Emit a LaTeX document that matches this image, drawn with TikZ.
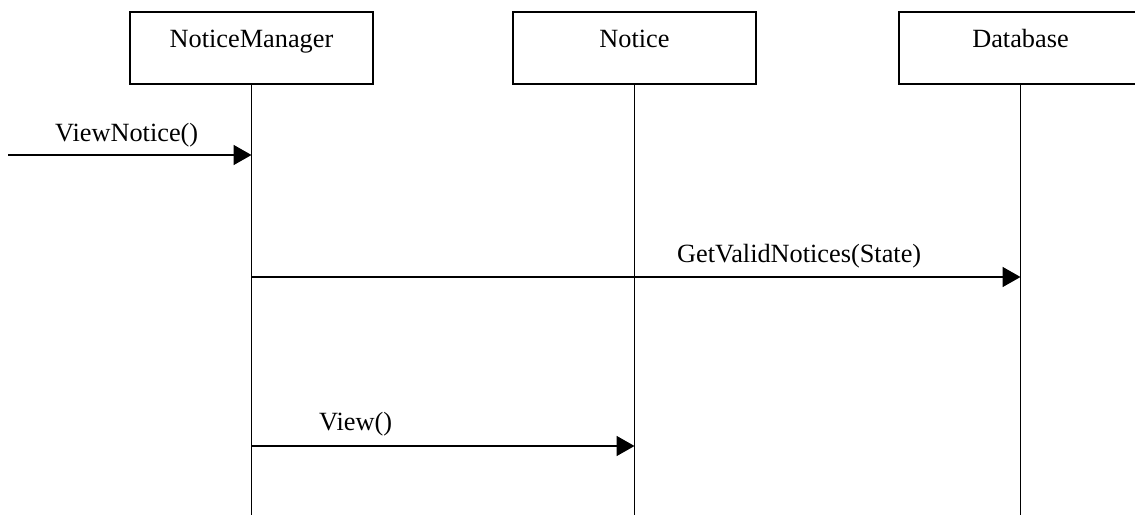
\documentclass[tikz,border=0pt]{standalone}
\usepackage{fontspec}
\setmainfont{Liberation Serif}
\usetikzlibrary{arrows.meta}
\begin{document}
\begin{tikzpicture}[x=1pt,y=-1pt,
  objbox/.style={draw=black, line width=1.6pt, minimum width=243pt, minimum height=72pt, inner sep=0pt},
  objtxt/.style={font=\fontsize{26.3pt}{31pt}\selectfont, anchor=base, inner sep=0pt},
  msgtxt/.style={font=\fontsize{26.3pt}{31pt}\selectfont, anchor=base west, inner sep=0pt},
  life/.style={line width=1.7pt},
  msg/.style={line width=1.7pt, -{Triangle[length=18pt,width=20pt]}}]
\useasboundingbox (0,0) rectangle (1135,514);
\clip (0,0) rectangle (1135,514);
% objects
\node[objbox] (nm) at (251.5,48) {};
\node[objbox] (nt) at (634.5,48) {};
\node[objbox] (db) at (1020.5,48) {};
\node[objtxt] (nmt) at (251.5,47) {NoticeManager};
\node[objtxt] (ntt) at (634.5,47) {Notice};
\node[objtxt] (dbt) at (1020.5,47) {Database};
% lifeline ends
\coordinate (nmend) at (251.5,520);
\coordinate (ntend) at (634.5,520);
\coordinate (dbend) at (1020.5,520);
\draw[life] (nm.south) -- (nmend);
\draw[life] (nt.south) -- (ntend);
\draw[life] (db.south) -- (dbend);
% messages
\coordinate (m1s) at (8,155);
\coordinate (m1e) at (251.5,155);
\draw[msg] (m1s) -- (m1e);
\node[msgtxt] (m1t) at (55,141) {ViewNotice()};
\coordinate (m2s) at (251.5,277);
\coordinate (m2e) at (1020.5,277);
\draw[msg] (m2s) -- (m2e);
\node[msgtxt] (m2t) at (677,262) {GetValidNotices(State)};
\coordinate (m3s) at (251.5,446);
\coordinate (m3e) at (634.5,446);
\draw[msg] (m3s) -- (m3e);
\node[msgtxt] (m3t) at (319,430) {View()};
\end{tikzpicture}
\end{document}
